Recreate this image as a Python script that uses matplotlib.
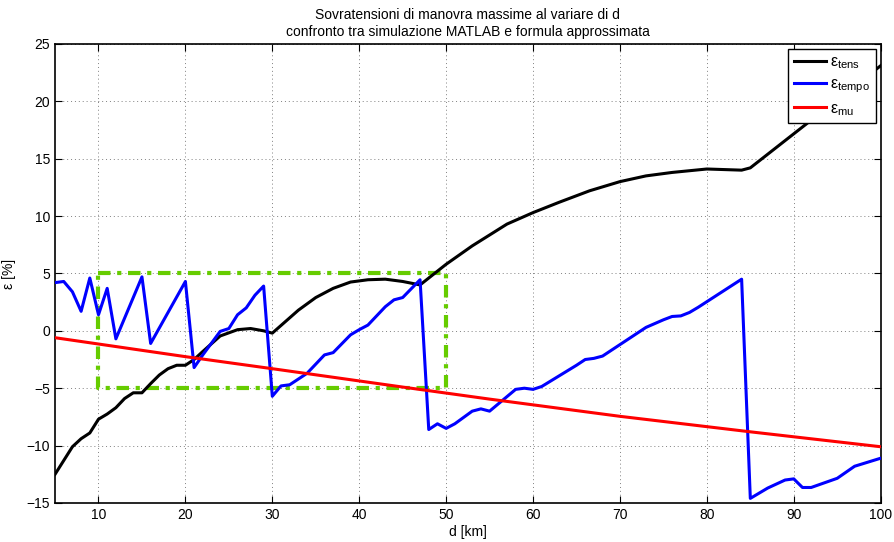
import matplotlib
matplotlib.use("Agg")
import matplotlib.pyplot as plt

plt.rcParams['font.family'] = ['Liberation Sans', 'DejaVu Sans']
plt.rcParams['mathtext.fontset'] = 'custom'
plt.rcParams['mathtext.rm'] = 'Liberation Sans'
plt.rcParams['mathtext.it'] = 'Liberation Sans:italic'

# distance [km] and overvoltage deviation [%] for each curve
d_tens = [5, 6, 7, 8, 9, 10, 11, 12, 13, 14, 15, 16, 17, 18, 19, 20, 21, 22, 24, 26,
          27.5, 29, 30, 31.5, 33, 35, 37, 39, 41, 43, 45, 47, 48, 50, 53, 57, 60, 63,
          66.5, 70, 73, 76, 80, 84, 85, 100]
eps_tens = [-12.5, -11.3, -10.1, -9.4, -8.9, -7.7, -7.25, -6.7, -5.9, -5.4, -5.4, -4.6,
            -3.85, -3.3, -3.0, -3.0, -2.5, -1.8, -0.45, 0.1, 0.2, 0.0, -0.2, 0.8, 1.8,
            2.9, 3.7, 4.25, 4.45, 4.5, 4.3, 4.0, 4.6, 5.8, 7.4, 9.3, 10.3, 11.2, 12.2,
            13.0, 13.5, 13.8, 14.1, 14.0, 14.2, 23.1]

d_tempo = [5, 6, 7, 8, 9, 10, 11, 12, 15, 16, 20, 21, 22, 24, 25, 26, 27, 28, 29, 30,
           31, 32, 34, 36, 37, 39, 40, 41, 43, 44, 45, 47, 48, 49, 50, 51, 53, 54, 55,
           58, 59, 60, 61, 65, 66, 67, 68, 70, 73, 75, 76, 77, 78, 79, 84, 85, 87, 89,
           90, 91, 92, 95, 97, 100]
eps_tempo = [4.2, 4.3, 3.4, 1.7, 4.6, 1.4, 3.7, -0.7, 4.7, -1.1, 4.3, -3.2, -2.1, -0.05,
             0.2, 1.4, 2.0, 3.1, 3.9, -5.7, -4.8, -4.7, -3.7, -2.1, -1.9, -0.35, 0.1,
             0.5, 2.1, 2.7, 2.9, 4.45, -8.6, -8.1, -8.5, -8.1, -7.0, -6.8, -7.0, -5.1,
             -5.0, -5.1, -4.85, -3.0, -2.5, -2.4, -2.2, -1.2, 0.3, 0.96, 1.25, 1.3, 1.6,
             2.05, 4.5, -14.6, -13.7, -13.0, -12.9, -13.65, -13.65, -12.85, -11.8, -11.1]

d_mu = [5, 20, 30, 45, 55, 70, 85, 100]
eps_mu = [-0.6, -2.25, -3.3, -4.9, -5.95, -7.45, -8.8, -10.1]

# highlighted region
box_d = [10, 50, 50, 10, 10]
box_eps = [5, 5, -5, -5, 5]

x_ticks = [10, 20, 30, 40, 50, 60, 70, 80, 90, 100]
y_ticks = [-15, -10, -5, 0, 5, 10, 15, 20, 25]

fig = plt.figure(figsize=(8.95, 5.42), dpi=100)
ax = fig.add_axes([0.0615, 0.072, 0.9225, 0.847])

ax.plot(box_d, box_eps, color='#66cc00', lw=3,
        linestyle=(0, (3, 1.6, 1, 1.6)), zorder=2)
l1, = ax.plot(d_tens, eps_tens, color='black', lw=2.2, zorder=3)
l2, = ax.plot(d_tempo, eps_tempo, color='#0000ff', lw=2.2, zorder=3)
l3, = ax.plot(d_mu, eps_mu, color='#ff0000', lw=2.2, zorder=3)

ax.set_xlim(5, 100)
ax.set_ylim(-15, 25)
ax.set_xticks(x_ticks)
ax.set_yticks(y_ticks)
ax.set_yticklabels(['\u221215', '\u221210', '\u22125', '0', '5', '10', '15', '20', '25'])
ax.tick_params(direction='in', top=True, right=True, labelsize=10, length=5, width=0.8)
ax.grid(True, color='#808080', linestyle=(0, (1, 3)), lw=0.7)
for s in ax.spines.values():
    s.set_linewidth(1.2)

ax.set_xlabel('d [km]', fontsize=10, labelpad=2)
ax.set_ylabel('ε [%]', fontsize=10, labelpad=8)
ax.set_title('Sovratensioni di manovra massime al variare di d\n'
             'confronto tra simulazione MATLAB e formula approssimata',
             fontsize=10, pad=6)

leg = ax.legend([l1, l2, l3],
                ['ε$_{\\mathrm{tens}}$', 'ε$_{\\mathrm{tempo}}$', 'ε$_{\\mathrm{mu}}$'],
                loc='upper right', fontsize=11.5, frameon=True, fancybox=False,
                edgecolor='black', handlelength=2.0, borderaxespad=0.3,
                labelspacing=0.35, handletextpad=0.3, borderpad=0.35,
                framealpha=1)
leg.get_frame().set_linewidth(1.0)

fig.savefig('out.png', dpi=100)
